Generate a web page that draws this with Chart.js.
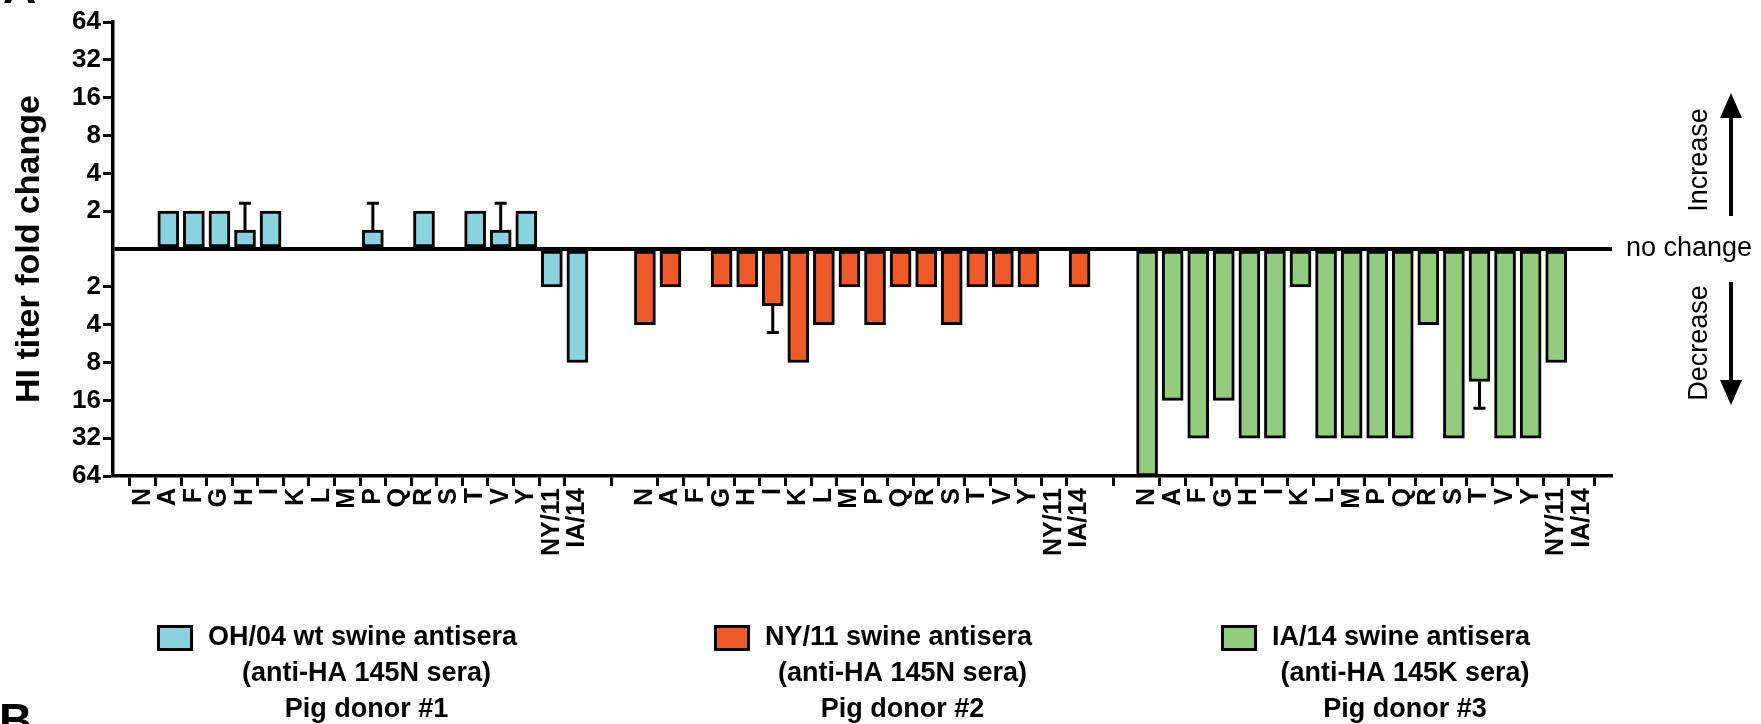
<!DOCTYPE html>
<html>
<head>
<meta charset="utf-8">
<title>HI titer fold change</title>
<script src="https://cdn.jsdelivr.net/npm/chart.js@4.4.1/dist/chart.umd.min.js"></script>
<style>
    body { margin: 0; background: #fff; }
    #wrap { width: 1761px; height: 724px; }
</style>
</head>
<body>
<div id="wrap"><canvas id="foldChart" width="1761" height="724"></canvas></div>
<script>
// Categories (same residue list repeated for each antiserum)
const residues = ['N', 'A', 'F', 'G', 'H', 'I', 'K', 'L', 'M', 'P', 'Q', 'R', 'S', 'T', 'V', 'Y', 'NY/11', 'IA/14'];

// Y tick labels, from +6 (top) down to -6 (bottom), log2 units
const foldTickLabels = ['64', '32', '16', '8', '4', '2', '', '2', '4', '8', '16', '32', '64'];

// log2 fold change per residue (positive = increase, negative = decrease)
const oh04Values = [0, 1, 1, 1, 0.5, 1, 0, 0, 0, 0.5, 0, 1, 0, 1, 0.5, 1, -1, -3];
const oh04Errors = [0, 0, 0, 0, 0.71, 0, 0, 0, 0, 0.71, 0, 0, 0, 0, 0.71, 0, 0, 0];

const ny11Values = [-2, -1, 0, -1, -1, -1.5, -3, -2, -1, -2, -1, -1, -2, -1, -1, -1, 0, -1];
const ny11Errors = [0, 0, 0, 0, 0, 0.71, 0, 0, 0, 0, 0, 0, 0, 0, 0, 0, 0, 0];

const ia14Values = [-6, -4, -5, -4, -5, -5, -1, -5, -5, -5, -5, -2, -5, -3.5, -5, -5, -3, 0];
const ia14Errors = [0, 0, 0, 0, 0, 0, 0, 0, 0, 0, 0, 0, 0, 0.71, 0, 0, 0, 0];

// Legend text
const legendLines = [
    ['OH/04 wt swine antisera', '(anti-HA 145N sera)', 'Pig donor #1'],
    ['NY/11 swine antisera', '(anti-HA 145N sera)', 'Pig donor #2'],
    ['IA/14 swine antisera', '(anti-HA 145K sera)', 'Pig donor #3']
];

const groupValues = [oh04Values, ny11Values, ia14Values];
const groupErrors = [oh04Errors, ny11Errors, ia14Errors];
const groupColors = ['#8ad3de', '#ef5a29', '#93cc7f'];

const FONT = "'Liberation Sans', Arial, Helvetica, sans-serif";
const GROUP_GAP = 1.64; // space between the three groups, in category widths

function xPos(group, i) {
    return group * (residues.length + GROUP_GAP) + i;
}

// Tick positions for every residue of every group
const tickPositions = [];
groupValues.forEach((vals, g) => {
    residues.forEach((r, i) => tickPositions.push(xPos(g, i)));
});

// One dataset per group, skipping "no change" entries
const datasets = groupValues.map((vals, g) => ({
    label: legendLines[g][0],
    data: vals
        .map((v, i) => ({ x: xPos(g, i), y: v }))
        .filter(p => p.y !== 0),
    backgroundColor: groupColors[g],
    borderColor: '#000',
    borderWidth: 3,
    borderSkipped: false,
    barThickness: 21,
    grouped: false
}));

// Error bars (drawn outward from the bar end)
const errorBarPlugin = {
    id: 'errorBars',
    afterDatasetsDraw(chart) {
        const ctx = chart.ctx;
        const xs = chart.scales.x;
        const ys = chart.scales.y;
        ctx.save();
        ctx.strokeStyle = '#000';
        ctx.lineWidth = 3;
        groupValues.forEach((vals, g) => {
            vals.forEach((v, i) => {
                const err = groupErrors[g][i];
                if (!err) return;
                const x = xs.getPixelForValue(xPos(g, i));
                const y0 = ys.getPixelForValue(v);
                const y1 = ys.getPixelForValue(v + Math.sign(v) * err);
                ctx.beginPath();
                ctx.moveTo(x, y0);
                ctx.lineTo(x, y1);
                ctx.moveTo(x - 6, y1);
                ctx.lineTo(x + 6, y1);
                ctx.stroke();
            });
        });
        ctx.restore();
    }
};

// Side annotations + custom legend
const annotationPlugin = {
    id: 'annotations',
    afterDraw(chart) {
        const ctx = chart.ctx;
        const y0 = chart.scales.y.getPixelForValue(0);
        ctx.save();
        ctx.fillStyle = '#000';
        ctx.strokeStyle = '#000';

        // "no change"
        ctx.font = '27px ' + FONT;
        ctx.textAlign = 'left';
        ctx.textBaseline = 'middle';
        ctx.fillText('no change', 1626, y0);

        // Increase / Decrease labels
        ctx.font = '27px ' + FONT;
        ctx.textAlign = 'center';
        [['Increase', 160], ['Decrease', 343]].forEach(([txt, cy]) => {
            ctx.save();
            ctx.translate(1700, cy);
            ctx.rotate(-Math.PI / 2);
            ctx.fillText(txt, 0, 0);
            ctx.restore();
        });

        // Arrows
        ctx.lineWidth = 4;
        ctx.beginPath();
        ctx.moveTo(1731, 216);
        ctx.lineTo(1731, 112);
        ctx.moveTo(1731, 282);
        ctx.lineTo(1731, 385);
        ctx.stroke();
        ctx.beginPath();
        ctx.moveTo(1731, 93);
        ctx.lineTo(1742, 118);
        ctx.lineTo(1720, 118);
        ctx.closePath();
        ctx.moveTo(1731, 405);
        ctx.lineTo(1742, 380);
        ctx.lineTo(1720, 380);
        ctx.closePath();
        ctx.fill();

        // Legend
        const boxX = [157, 714, 1221];
        ctx.font = 'bold 27px ' + FONT;
        ctx.textBaseline = 'middle';
        legendLines.forEach((lines, g) => {
            ctx.fillStyle = groupColors[g];
            ctx.fillRect(boxX[g], 625, 36, 26);
            ctx.lineWidth = 3;
            ctx.strokeRect(boxX[g] + 1.5, 626.5, 33, 23);
            ctx.fillStyle = '#000';
            const textLeft = boxX[g] + 51;
            const w = ctx.measureText(lines[0]).width;
            const cx = textLeft + w / 2 + 4;
            ctx.textAlign = 'left';
            ctx.fillText(lines[0], textLeft, 638);
            ctx.textAlign = 'center';
            ctx.fillText(lines[1], cx, 674);
            ctx.fillText(lines[2], cx, 710);
        });

        // panel letters (cropped)
        ctx.font = 'bold 46px ' + FONT;
        ctx.textAlign = 'left';
        ctx.textBaseline = 'alphabetic';
        ctx.fillText('A', 3, 3);
        ctx.textBaseline = 'top';
        ctx.fillText('B', -1, 700);
        ctx.restore();
    }
};

const isZero = c => c.tick && c.tick.value === 0;

new Chart(document.getElementById('foldChart'), {
    type: 'bar',
    data: { datasets: datasets },
    options: {
        responsive: false,
        animation: false,
        layout: { padding: { top: 22, right: 149, bottom: 0, left: 0 } },
        plugins: {
            legend: { display: false },
            tooltip: { enabled: false }
        },
        scales: {
            x: {
                type: 'linear',
                min: -0.62,
                max: xPos(2, residues.length - 1) + 0.64,
                afterBuildTicks: axis => {
                    axis.ticks = tickPositions.map(v => ({ value: v }));
                },
                afterFit: axis => {
                    axis.height = 248;
                    axis.paddingLeft = 0;
                    axis.paddingRight = 0;
                },
                ticks: {
                    autoSkip: false,
                    minRotation: 90,
                    maxRotation: 90,
                    padding: 2,
                    color: '#000',
                    font: { family: FONT, size: 25, weight: 'bold' },
                    callback: (value, index) => residues[index % residues.length]
                },
                grid: {
                    drawOnChartArea: false,
                    drawTicks: true,
                    tickLength: 10,
                    tickWidth: 3,
                    tickColor: '#000'
                },
                border: { display: true, color: '#000', width: 3.5 }
            },
            y: {
                min: -6,
                max: 6,
                afterBuildTicks: axis => {
                    axis.ticks = foldTickLabels.map((t, i) => ({ value: 6 - i }));
                },
                afterFit: axis => {
                    axis.width = 113;
                    axis.paddingTop = 0;
                    axis.paddingBottom = 0;
                },
                ticks: {
                    padding: 2,
                    color: '#000',
                    font: { family: FONT, size: 26, weight: 'bold' },
                    callback: (value, index) => foldTickLabels[index]
                },
                grid: {
                    drawOnChartArea: true,
                    drawTicks: true,
                    tickLength: 10,
                    tickWidth: 3,
                    color: c => isZero(c) ? '#000' : 'rgba(0,0,0,0)',
                    lineWidth: c => isZero(c) ? 4 : 1,
                    tickColor: c => isZero(c) ? 'rgba(0,0,0,0)' : '#000'
                },
                border: { display: true, color: '#000', width: 3.5 },
                title: {
                    display: true,
                    text: 'HI titer fold change',
                    color: '#000',
                    font: { family: FONT, size: 34, weight: 'bold' },
                    padding: { top: 9, bottom: 0 }
                }
            }
        }
    },
    plugins: [errorBarPlugin, annotationPlugin]
});
</script>
</body>
</html>
